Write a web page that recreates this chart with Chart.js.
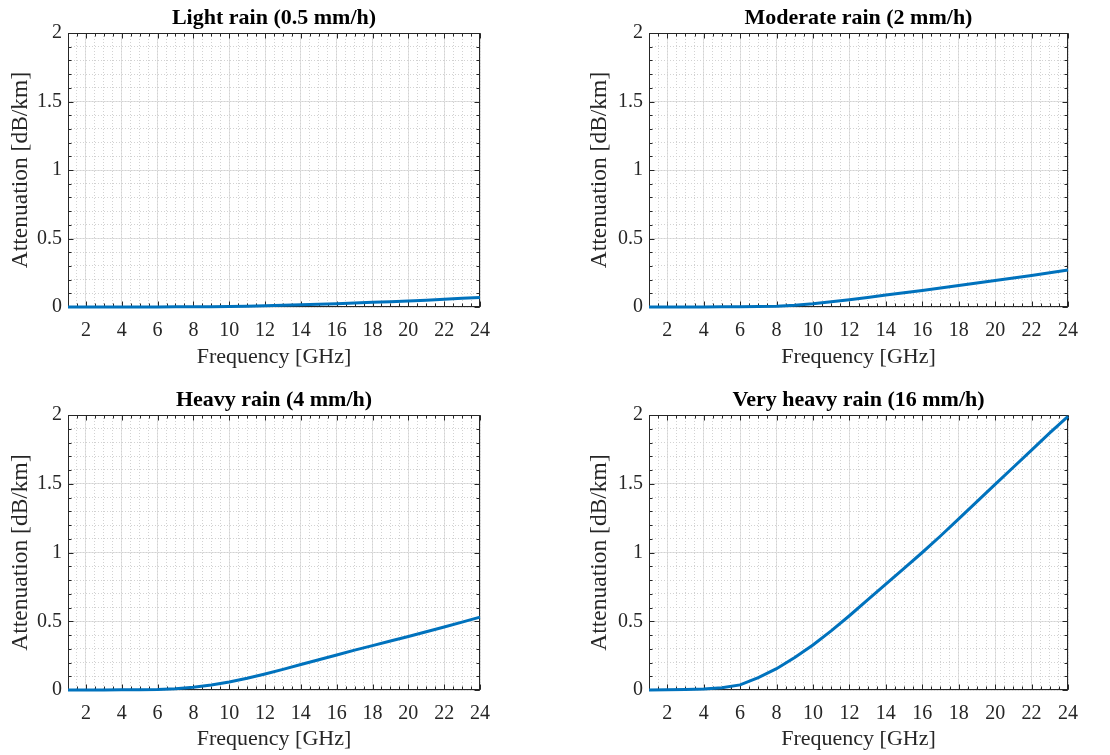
<!DOCTYPE html>
<html>
<head>
<meta charset="utf-8">
<title>Rain attenuation vs frequency</title>
<script src="https://cdn.jsdelivr.net/npm/chart.js@4.4.0/dist/chart.umd.min.js"></script>
<style>
  body { margin: 0; background: #ffffff; }
  #figure { position: relative; width: 1110px; height: 755px; overflow: hidden; }
  #figure canvas { position: absolute; }
</style>
</head>
<body>
<div id="figure">
  <canvas id="lightChart" width="555" height="377" style="left:0;top:0"></canvas>
  <canvas id="moderateChart" width="555" height="377" style="left:555px;top:0"></canvas>
  <canvas id="heavyChart" width="555" height="378" style="left:0;top:377px"></canvas>
  <canvas id="veryHeavyChart" width="555" height="378" style="left:555px;top:377px"></canvas>
</div>
<script>
// frequency samples (GHz)
const frequencies = [1, 2, 3, 4, 5, 6, 7, 8, 9, 10, 11, 12, 13, 14, 15, 16, 17, 18, 19, 20, 21, 22, 23, 24];

// specific attenuation (dB/km)
const lightRain = [0, 0, 0, 0, 0, 0, 0.001, 0.001, 0.002, 0.004, 0.006, 0.009, 0.012, 0.016, 0.02, 0.024, 0.029, 0.034, 0.039, 0.044, 0.05, 0.056, 0.063, 0.07];
const moderateRain = [0, 0, 0, 0, 0.001, 0.001, 0.003, 0.006, 0.013, 0.024, 0.038, 0.053, 0.07, 0.087, 0.104, 0.121, 0.139, 0.157, 0.175, 0.193, 0.211, 0.23, 0.25, 0.27];
const heavyRain = [0, 0, 0, 0.001, 0.002, 0.004, 0.009, 0.02, 0.036, 0.058, 0.085, 0.116, 0.15, 0.185, 0.22, 0.255, 0.29, 0.323, 0.356, 0.389, 0.424, 0.458, 0.494, 0.53];
const veryHeavyRain = [0, 0.001, 0.003, 0.007, 0.016, 0.037, 0.09, 0.155, 0.237, 0.327, 0.43, 0.54, 0.655, 0.77, 0.885, 1.0, 1.12, 1.245, 1.37, 1.495, 1.62, 1.745, 1.87, 1.99];

const panelTitles = ["Light rain (0.5 mm/h)", "Moderate rain (2 mm/h)", "Heavy rain (4 mm/h)", "Very heavy rain (16 mm/h)"];
const xTickValues = [2, 4, 6, 8, 10, 12, 14, 16, 18, 20, 22, 24];
const yTickValues = [0, 0.5, 1, 1.5, 2];

const xAxisTitle = "Frequency [GHz]";
const yAxisTitle = "Attenuation [dB/km]";

const X_MIN = 1;
const X_MAX = 24;
const Y_MIN = 0;
const Y_MAX = 2;
const X_MINOR_STEP = 0.5;
const Y_MINOR_STEP = 0.1;

const LINE_COLOR = "#0072bd";
const AXIS_COLOR = "#262626";
const MAJOR_GRID = "#e1e1e1";
const MINOR_GRID = "#d2d2d2";

Chart.defaults.font.family = "'Liberation Serif', 'Times New Roman', serif";
Chart.defaults.color = AXIS_COLOR;

function stepValues(min, max, step) {
  const out = [];
  const n = Math.round((max - min) / step);
  for (let i = 0; i <= n; i++) {
    out.push(Math.round((min + i * step) * 1000) / 1000);
  }
  return out;
}

const xMinorValues = stepValues(X_MIN, X_MAX, X_MINOR_STEP);
const yMinorValues = stepValues(Y_MIN, Y_MAX, Y_MINOR_STEP);

// MATLAB style box with inward ticks on all four sides
const matlabBox = {
  id: "matlabBox",
  beforeDatasetsDraw(chart) {
    const { ctx, chartArea: a } = chart;
    const xs = chart.scales.x;
    const ys = chart.scales.y;
    const left = Math.round(a.left) + 0.5;
    const right = Math.round(a.right) - 0.5;
    const top = Math.round(a.top) + 0.5;
    const bottom = Math.round(a.bottom) - 0.5;

    ctx.save();
    ctx.strokeStyle = AXIS_COLOR;
    ctx.lineWidth = 1;
    ctx.beginPath();
    const xTick = (v, len) => {
      const px = Math.round(xs.getPixelForValue(v)) + 0.5;
      ctx.moveTo(px, bottom);
      ctx.lineTo(px, bottom - len);
      ctx.moveTo(px, top);
      ctx.lineTo(px, top + len);
    };
    const yTick = (v, len) => {
      const py = Math.round(ys.getPixelForValue(v)) + 0.5;
      ctx.moveTo(left, py);
      ctx.lineTo(left + len, py);
      ctx.moveTo(right, py);
      ctx.lineTo(right - len, py);
    };
    xMinorValues.forEach((v) => xTick(v, 3));
    yMinorValues.forEach((v) => yTick(v, 3));
    xTickValues.forEach((v) => xTick(v, 5));
    yTickValues.forEach((v) => yTick(v, 5));
    ctx.stroke();
    ctx.strokeRect(left, top, right - left, bottom - top);
    ctx.restore();
  },
};

function buildChart(canvasId, title, values, layout) {
  const canvas = document.getElementById(canvasId);
  if (!canvas) return null;

  const points = frequencies.map((f, i) => ({ x: f, y: values[i] }));

  return new Chart(canvas.getContext("2d"), {
    type: "line",
    data: {
      datasets: [
        {
          label: title,
          data: points,
          borderColor: LINE_COLOR,
          borderWidth: 3,
          pointRadius: 0,
          tension: 0,
          fill: false,
          clip: 6,
        },
      ],
    },
    options: {
      responsive: false,
      animation: false,
      events: [],
      layout: {
        padding: { left: layout.padLeft, right: layout.padRight, top: 0, bottom: 0 },
      },
      plugins: {
        legend: { display: false },
        tooltip: { enabled: false },
        title: {
          display: true,
          text: title,
          fullSize: false,
          color: "#000000",
          font: { size: 22, weight: "bold" },
          padding: { top: layout.titleTop, bottom: layout.titleBottom },
        },
      },
      scales: {
        x: {
          type: "linear",
          min: X_MIN,
          max: X_MAX,
          afterBuildTicks: (scale) => {
            scale.ticks = xTickValues.map((v) => ({ value: v }));
          },
          afterFit: (scale) => {
            scale.height = layout.xAxisHeight;
          },
          grid: { color: MAJOR_GRID, lineWidth: 1, drawTicks: false },
          border: { display: false },
          ticks: {
            autoSkip: false,
            maxRotation: 0,
            padding: 12,
            color: AXIS_COLOR,
            font: { size: 20 },
            callback: (v) => String(v),
          },
          title: {
            display: true,
            text: xAxisTitle,
            color: AXIS_COLOR,
            font: { size: 22 },
            padding: { top: 0, bottom: layout.xTitleBottom },
          },
        },
        xMinor: {
          axis: "x",
          type: "linear",
          position: "bottom",
          min: X_MIN,
          max: X_MAX,
          afterBuildTicks: (scale) => {
            scale.ticks = xMinorValues.map((v) => ({ value: v }));
          },
          afterFit: (scale) => {
            scale.height = 0;
          },
          grid: { color: MINOR_GRID, lineWidth: 1, drawTicks: false },
          border: { display: false, dash: [1, 2] },
          ticks: { display: false },
        },
        y: {
          type: "linear",
          min: Y_MIN,
          max: Y_MAX,
          afterBuildTicks: (scale) => {
            scale.ticks = yTickValues.map((v) => ({ value: v }));
          },
          afterFit: (scale) => {
            scale.width = layout.yAxisWidth;
          },
          grid: { color: MAJOR_GRID, lineWidth: 1, drawTicks: false },
          border: { display: false },
          ticks: {
            autoSkip: false,
            padding: 6,
            color: AXIS_COLOR,
            font: { size: 20 },
            callback: (v) => String(v),
          },
          title: {
            display: true,
            text: yAxisTitle,
            color: AXIS_COLOR,
            font: { size: 23.5 },
            padding: { top: layout.yTitleGap, bottom: 0 },
          },
        },
        yMinor: {
          axis: "y",
          type: "linear",
          position: "left",
          min: Y_MIN,
          max: Y_MAX,
          afterBuildTicks: (scale) => {
            scale.ticks = yMinorValues.map((v) => ({ value: v }));
          },
          afterFit: (scale) => {
            scale.width = 0;
          },
          grid: { color: MINOR_GRID, lineWidth: 1, drawTicks: false },
          border: { display: false, dash: [1, 2] },
          ticks: { display: false },
        },
      },
    },
    plugins: [matlabBox],
  });
}

function main() {
  const topRow = { titleTop: 4.8, titleBottom: 1.8, xAxisHeight: 70, xTitleBottom: 6.8 };
  const bottomRow = { titleTop: 9.8, titleBottom: 1.8, xAxisHeight: 65, xTitleBottom: 2.8 };
  const leftCol = { padLeft: 0, padRight: 75, yAxisWidth: 68, yTitleGap: 7 };
  const rightCol = { padLeft: 26, padRight: 42, yAxisWidth: 68, yTitleGap: 5 };

  buildChart("lightChart", panelTitles[0], lightRain, { ...topRow, ...leftCol });
  buildChart("moderateChart", panelTitles[1], moderateRain, { ...topRow, ...rightCol });
  buildChart("heavyChart", panelTitles[2], heavyRain, { ...bottomRow, ...leftCol });
  buildChart("veryHeavyChart", panelTitles[3], veryHeavyRain, { ...bottomRow, ...rightCol });
}

main();
</script>
</body>
</html>
